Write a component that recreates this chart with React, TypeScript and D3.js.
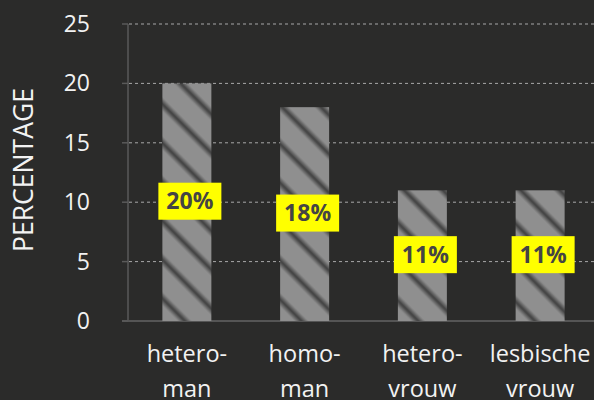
import React from "react";
import * as d3 from "d3";

const categories: string[][] = [
  ["hetero-", "man"],
  ["homo-", "man"],
  ["hetero-", "vrouw"],
  ["lesbische", "vrouw"],
];
const values: number[] = [20, 18, 11, 11];
const valueLabels: string[] = ["20%", "18%", "11%", "11%"];
const yTicks: number[] = [0, 5, 10, 15, 20, 25];
const yTitle = "PERCENTAGE";

const W = 594;
const H = 400;
const BG = "#2b2b2a";
const FONT = "'Open Sans', 'Noto Sans', sans-serif";

export default function App() {
  const keys = categories.map((c) => c.join(""));
  const x = d3
    .scaleBand<string>()
    .domain(keys)
    .range([128, 599])
    .paddingInner(0.584)
    .paddingOuter(0.292);
  const y = d3.scaleLinear().domain([0, 25]).range([321, 24]);

  return (
    <svg
      width={W}
      height={H}
      style={{ position: "absolute", left: 0, top: 0, display: "block" }}
    >
      <defs>
        <linearGradient id="stripeGrad" x1="0" y1="0" x2="1" y2="0">
          <stop offset="0" stopColor="#8f8f8f" />
          <stop offset="0.32" stopColor="#8f8f8f" />
          <stop offset="0.5" stopColor="#3f3f3f" />
          <stop offset="0.68" stopColor="#8f8f8f" />
          <stop offset="1" stopColor="#8f8f8f" />
        </linearGradient>
        <pattern
          id="stripes"
          patternUnits="userSpaceOnUse"
          width={27.5}
          height={27.5}
          patternTransform="rotate(-45)"
        >
          <rect width={27.5} height={27.5} fill="url(#stripeGrad)" />
        </pattern>
      </defs>
      <rect width={W} height={H} fill={BG} />

      {yTicks
        .filter((t) => t !== 0)
        .map((t) => (
          <line
            key={"g" + t}
            x1={129}
            x2={W}
            y1={y(t)}
            y2={y(t)}
            stroke="#a8a8a8"
            strokeWidth={1}
            strokeDasharray="3,3"
          />
        ))}

      <line x1={128} x2={128} y1={y(25)} y2={y(0)} stroke="#5a5a5a" strokeWidth={1.5} />
      <line x1={122} x2={W} y1={y(0)} y2={y(0)} stroke="#555" strokeWidth={2} />
      {yTicks.map((t) => (
        <g key={"t" + t}>
          <line x1={122} x2={128} y1={y(t)} y2={y(t)} stroke="#5a5a5a" strokeWidth={1.5} />
          <text
            x={90}
            y={y(t)}
            dy="0.35em"
            textAnchor="end"
            fill="#f2f2f2"
            fontFamily={FONT}
            fontSize={23}
          >
            {t}
          </text>
        </g>
      ))}

      <text
        transform={`translate(33,170) rotate(-90)`}
        textAnchor="middle"
        fill="#f2f2f2"
        fontFamily={FONT}
        fontSize={27}
        textLength={164}
        lengthAdjust="spacingAndGlyphs"
      >
        {yTitle}
      </text>

      {values.map((v, i) => (
        <rect
          key={"b" + i}
          x={x(keys[i])!}
          y={y(v)}
          width={x.bandwidth()}
          height={y(0) - y(v)}
          fill="url(#stripes)"
        />
      ))}

      {values.map((v, i) => {
        const cx = x(keys[i])! + x.bandwidth() / 2 + 3;
        const cy = y(v / 2) - 1;
        const label = valueLabels[i];
        const bw = label.length * 13 + 24;
        return (
          <g key={"l" + i}>
            <rect x={cx - bw / 2} y={cy - 18.5} width={bw} height={37} fill="#ffff00" />
            <text
              x={cx}
              y={cy}
              dy="0.36em"
              textAnchor="middle"
              fill="#444"
              fontFamily={FONT}
              fontWeight="bold"
              fontSize={23}
            >
              {label}
            </text>
          </g>
        );
      })}

      {categories.map((lines, i) => {
        const cx = x(keys[i])! + x.bandwidth() / 2;
        return (
          <text
            key={"x" + i}
            textAnchor="middle"
            fill="#f2f2f2"
            fontFamily={FONT}
            fontSize={23.5}
          >
            {lines.map((ln, j) => (
              <tspan key={j} x={cx} y={362 + j * 35}>
                {ln}
              </tspan>
            ))}
          </text>
        );
      })}
    </svg>
  );
}
